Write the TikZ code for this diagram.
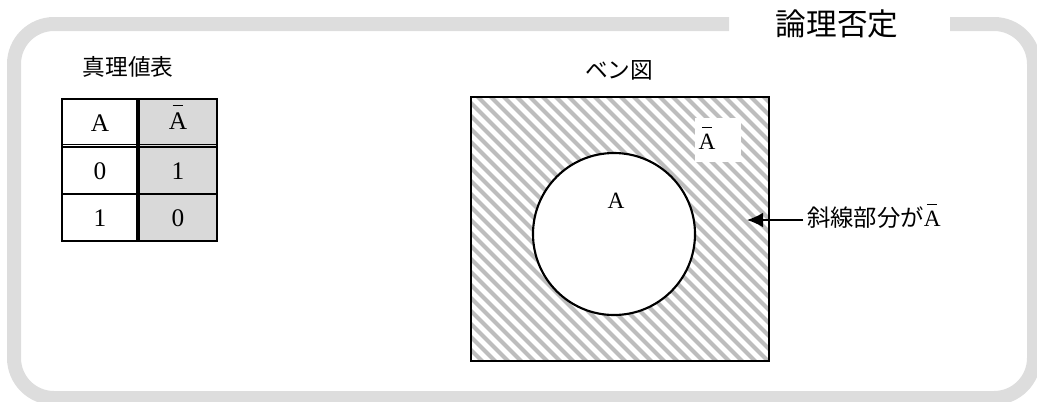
\documentclass[tikz,border=0pt]{standalone}
\usepackage{fontspec}
\setmainfont{Liberation Serif}
\newfontfamily\jp{Noto Sans CJK JP}
\usetikzlibrary{arrows.meta}
\definecolor{framegray}{HTML}{DDDDDD}
\definecolor{cellgray}{HTML}{D9D9D9}
\definecolor{hatchgray}{HTML}{BDBDBD}
\newcommand{\Abar}{\leavevmode\ooalign{A\cr\hidewidth\rule[0.92em]{0.42em}{0.045em}\hidewidth\cr}}
\tikzset{
  frameline/.style={line width=10.5pt, draw=framegray, rounded corners=30pt},
  jplabel/.style={inner sep=0pt, font=\jp\fontsize{17pt}{20pt}\selectfont},
  celltext/.style={inner sep=0pt, font=\fontsize{19pt}{22pt}\selectfont},
  venntext/.style={inner sep=0pt, font=\fontsize{17.5pt}{20pt}\selectfont},
  hatchline/.style={line width=3pt, draw=hatchgray},
  boxline/.style={line width=1.6pt, draw=black},
}
\begin{document}
\begin{tikzpicture}[x=0.75pt,y=-0.75pt]
\useasboundingbox (0,0) rectangle (1037,401);
% frame
\draw[frameline] (729,24) -- (14,24) -- (14,398) -- (1034,398) -- (1034,24) -- (950,24);
\node[inner sep=0pt, font=\jp\fontsize{23pt}{26pt}\selectfont] (title) at (837,24) {論理否定};
% truth table
\node[jplabel] (ttlabel) at (128,67) {真理値表};
\fill[cellgray] (138,99) rectangle (217,241);
\draw[line width=1.5pt] (62,194) -- (217,194);
\draw[line width=1.2pt] (62,144.3) -- (217,144.3);
\draw[line width=1.2pt] (62,147) -- (217,147);
\draw[line width=2.8pt] (138,99) -- (138,241);
\draw[line width=2pt] (62,99) rectangle (217,241);
\node[celltext] (hA) at (100,123) {A};
\node[celltext] (hNA) at (178,121) {\Abar};
\node[celltext] (r1a) at (100,171) {0};
\node[celltext] (r1b) at (178,171) {1};
\node[celltext] (r2a) at (100,218) {1};
\node[celltext] (r2b) at (178,218) {0};
% venn diagram
\node[jplabel] (vlabel) at (619,70) {ベン図};
\begin{scope}
  \clip (471,97) rectangle (769,361);
  \foreach \t in {-286,-273,...,310} {
    \draw[hatchline] (471+\t,90) -- ++(290,290);
  }
\end{scope}
\draw[boxline] (471,97) rectangle (769,361);
\draw[boxline, fill=white] (614,234) circle[radius=81];
\node[venntext] (inA) at (616,201) {A};
\fill[white] (695,118) rectangle (741,162);
\node[venntext] (outA) at (707,142) {\Abar};
% arrow label
\node[inner sep=0pt, anchor=west, font=\fontsize{17.5pt}{20pt}\selectfont] (note) at (807,218) {{\jp 斜線部分が}\Abar};
\coordinate (tip) at (747,220);
\draw[line width=1.1pt, -{Latex[length=12pt,width=11pt]}] (note.west) ++(-4,2) -- (tip);
\end{tikzpicture}
\end{document}
